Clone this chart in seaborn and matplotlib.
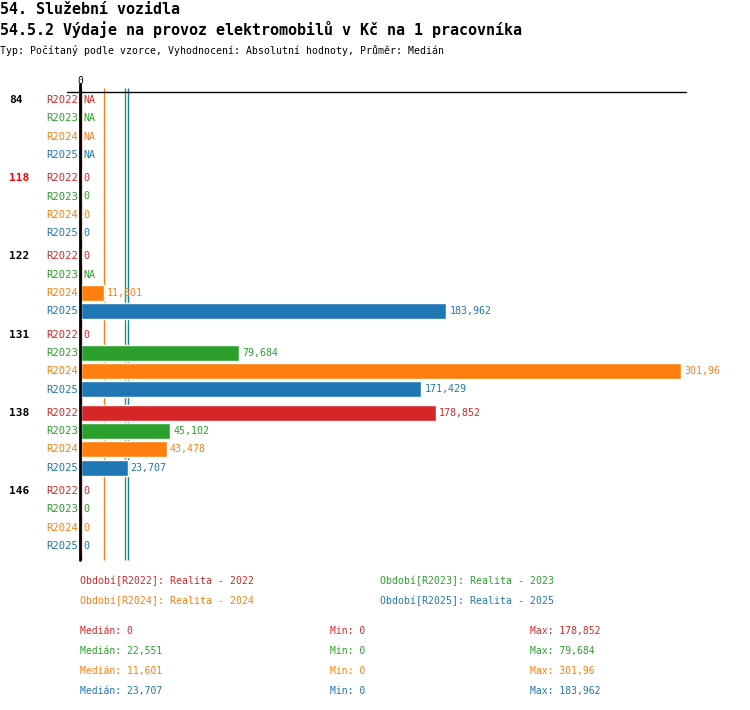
import numpy as np
import pandas as pd
import seaborn as sns
import matplotlib
import matplotlib.pyplot as plt
from matplotlib.lines import Line2D

matplotlib.use('Agg')

# data
groups = ['84', '118', '122', '131', '138', '146']
periods = ['R2022', 'R2023', 'R2024', 'R2025']
colors = ['#d62728', '#2ca02c', '#ff7f0e', '#1f77b4']
period_names = ['Realita - 2022', 'Realita - 2023', 'Realita - 2024', 'Realita - 2025']
highlight = '118'

r2022 = [np.nan, 0, 0, 0, 178.852, 0]
r2023 = [np.nan, 0, np.nan, 79.684, 45.102, 0]
r2024 = [np.nan, 0, 11.601, 301.96, 43.478, 0]
r2025 = [np.nan, 0, 183.962, 171.429, 23.707, 0]
series = [r2022, r2023, r2024, r2025]

W, H = 750, 710
x0, x1 = 80.5, 681        # pixel of 0 and of max
y_top, y_bot = 92, 560
row_h, grp_h, first_row = 18.3, 78.2, 100
xmax = np.nanmax(series)


def fx(px):
    return px / W


def fy(py):
    return 1 - py / H


def fmt(v):
    if np.isnan(v):
        return 'NA'
    return f'{v:g}'.replace('.', ',')


rows = []
for g, grp in enumerate(groups):
    for r, per in enumerate(periods):
        rows.append({'group': grp, 'period': per, 'value': series[r][g],
                     'ypos': first_row + g * grp_h + r * row_h})
df = pd.DataFrame(rows)

sns.set_style('white')
plt.rcParams['font.family'] = ['DejaVu Sans Mono']
plt.rcParams['text.color'] = 'black'

fig = plt.figure(figsize=(W / 100, H / 100), dpi=100)
ax = fig.add_axes([fx(x0), fy(y_bot), (x1 - x0) / W, (y_bot - y_top) / H])

sns.barplot(data=df.dropna(), x='value', y='ypos', hue='period', hue_order=periods,
            palette=colors, orient='h', native_scale=True, dodge=False,
            width=16 / row_h, errorbar=None, legend=False, ax=ax, saturation=1)
ax.set_xlim(0, xmax)
ax.set_ylim(y_bot, y_top)
ax.axis('off')

# median lines (behind the bars)
for per, col, vals in zip(periods, colors, series):
    ax.vlines(np.nanmedian(vals), 88, y_bot, color=col, lw=1, clip_on=False, zorder=0.5)

# axis lines
fig.add_artist(Line2D([fx(80), fx(80)], [fy(84), fy(y_bot)], color='black', lw=2))
fig.add_artist(Line2D([fx(67), fx(686)], [fy(y_top), fy(y_top)], color='black', lw=1))
fig.text(fx(80), fy(81), '0', ha='center', va='center', fontsize=7)

# labels
for i, row in df.iterrows():
    g = groups.index(row['group'])
    r = periods.index(row['period'])
    col = colors[r]
    if r == 0:
        fig.text(fx(9), fy(row['ypos']), row['group'], ha='left', va='center',
                 fontsize=8, fontweight='bold',
                 color='red' if row['group'] == highlight else 'black')
    fig.text(fx(78), fy(row['ypos']), row['period'], ha='right', va='center',
             fontsize=7.6, color=col)
    v = row['value']
    ax.annotate(fmt(v), (0 if np.isnan(v) else v, row['ypos']), xytext=(3, 0),
                textcoords='offset pixels', ha='left', va='center', fontsize=7.2,
                color=col, annotation_clip=False)

# titles
fig.text(0, fy(9), '54. Služební vozidla', ha='left', va='center',
         fontsize=10.8, fontweight='bold')
fig.text(0, fy(30), '54.5.2 Výdaje na provoz elektromobilů v Kč na 1 pracovníka',
         ha='left', va='center', fontsize=10.8, fontweight='bold')
fig.text(0, fy(50), 'Typ: Počítaný podle vzorce, Vyhodnocení: Absolutní hodnoty, Průměr: Medián',
         ha='left', va='center', fontsize=7.1)

# legend
leg_pos = [(80, 581), (380, 581), (80, 601), (380, 601)]
for (lx, ly), per, name, col in zip(leg_pos, periods, period_names, colors):
    fig.text(fx(lx), fy(ly), f'Období[{per}]: {name}', ha='left', va='center',
             fontsize=7.1, color=col)

# stats
for r, (vals, col) in enumerate(zip(series, colors)):
    ly = 631 + r * 20
    fig.text(fx(80), fy(ly), f'Medián: {fmt(np.nanmedian(vals))}', ha='left',
             va='center', fontsize=7, color=col)
    fig.text(fx(330), fy(ly), f'Min: {fmt(np.nanmin(vals))}', ha='left',
             va='center', fontsize=7, color=col)
    fig.text(fx(530), fy(ly), f'Max: {fmt(np.nanmax(vals))}', ha='left',
             va='center', fontsize=7, color=col)

fig.savefig('out.png', dpi=100)
